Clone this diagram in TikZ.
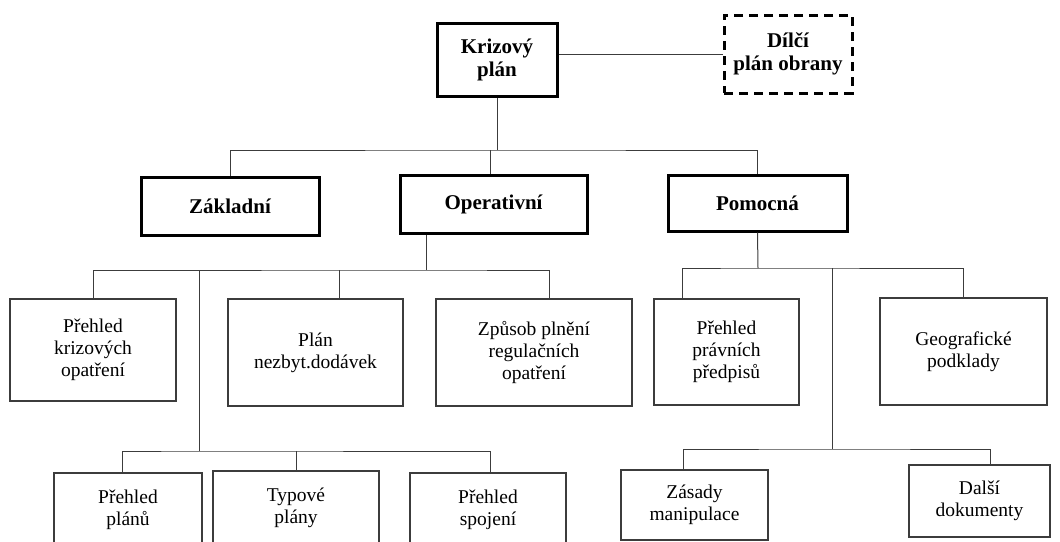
\documentclass[tikz,border=0pt]{standalone}
\usepackage{fontspec}
\setmainfont{Liberation Serif}
\usetikzlibrary{positioning,calc}
\definecolor{planline}{RGB}{60,60,60}

\tikzset{
  plan/.style={draw=planline,line width=1.2pt,align=center,inner sep=2pt,font=\fontsize{19.5}{22}\selectfont},
  planbold/.style={plan,draw=black,line width=3pt,font=\fontsize{21}{23}\selectfont\bfseries},
  plandash/.style={planbold,dash pattern=on 9pt off 6pt},
  link/.style={draw=planline,line width=1pt},
}

\begin{document}
\begin{tikzpicture}[x=1pt,y=-1pt]
    \useasboundingbox (0,0) rectangle (1060,541);
    \clip (0,0) rectangle (1060,541);

    % Top level
    \node[planbold,minimum width=120pt,minimum height=73pt] (kp) at (497,59.5) {Krizový\\plán};
    \node[plandash,minimum width=128pt,minimum height=78pt] (dpo) at (788,54) {Dílčí\\plán obrany};
    \draw[link] (kp.east |- dpo.west) -- (dpo.west);

    % Second level
    \node[planbold,minimum width=178pt,minimum height=58pt] (zak) at (230,206) {Základní};
    \node[planbold,minimum width=187pt,minimum height=58pt] (op) at (493.5,204) {Operativní};
    \node[planbold,minimum width=179pt,minimum height=56pt] (pom) at (757.5,203) {Pomocná};
    \coordinate (kpb) at (497,150);
    \draw[link] (kp.south) -- (kpb);
    \draw[link] (zak.north) |- (kpb) -| (pom.north);
    \draw[link] ([xshift=-3.5pt]op.north) -- ([xshift=-3.5pt]op.north |- kpb);

    % Operativni children
    \node[plan,minimum width=166pt,minimum height=102pt] (pkr) at (93,350) {Přehled\\krizových\\opatření};
    \node[plan,minimum width=175pt,minimum height=107pt] (pnd) at (315.5,352.5) {Plán\\nezbyt.dodávek};
    \node[plan,minimum width=196pt,minimum height=107pt] (zpr) at (534,352.5) {Způsob plnění\\regulačních\\opatření};
    \coordinate (opb) at (426,270);
    \coordinate (pnd-in) at ([xshift=23.5pt]pnd.north);
    \coordinate (zpr-in) at ([xshift=15pt]zpr.north);
    \draw[link] ([xshift=-67.5pt]op.south) -- (opb);
    \draw[link] (pkr.north) |- (opb) -| (zpr-in);
    \draw[link] (pnd-in) -- (pnd-in |- opb);

    \node[plan,minimum width=148pt,minimum height=74pt] (ppl) at (128,510) {Přehled\\plánů};
    \node[plan,minimum width=166pt,minimum height=74pt] (typ) at (296,508) {Typové\\plány};
    \node[plan,minimum width=156pt,minimum height=74pt] (psp) at (488,510) {Přehled\\spojení};
    \coordinate (ob2) at (199,270);
    \coordinate (ob3) at (199,451);
    \draw[link] (ob2) -- (ob3);
    \draw[link] ([xshift=-6pt]ppl.north) |- (ob3) -| ([xshift=2pt]psp.north);
    \draw[link] (typ.north) -- (typ.north |- ob3);

    % Pomocna children
    \node[plan,minimum width=145pt,minimum height=106pt] (ppp) at (726.5,352) {Přehled\\právních\\předpisů};
    \node[plan,minimum width=167pt,minimum height=107pt] (geo) at (963.5,351.5) {Geografické\\podklady};
    \coordinate (pmb) at (758,268);
    \draw[link] (pom.south) -- (pmb);
    \draw[link] ([xshift=-44.5pt]ppp.north) |- (pmb) -| (geo.north);

    \node[plan,minimum width=147pt,minimum height=70pt] (zas) at (694.5,505) {Zásady\\manipulace};
    \node[plan,minimum width=141pt,minimum height=72pt] (dal) at (979.5,501) {Další\\dokumenty};
    \coordinate (pm2) at (832,268);
    \coordinate (pm3) at (832,449);
    \draw[link] (pm2) -- (pm3);
    \draw[link] ([xshift=-11.5pt]zas.north) |- (pm3) -| ([xshift=10.5pt]dal.north);
\end{tikzpicture}
\end{document}
